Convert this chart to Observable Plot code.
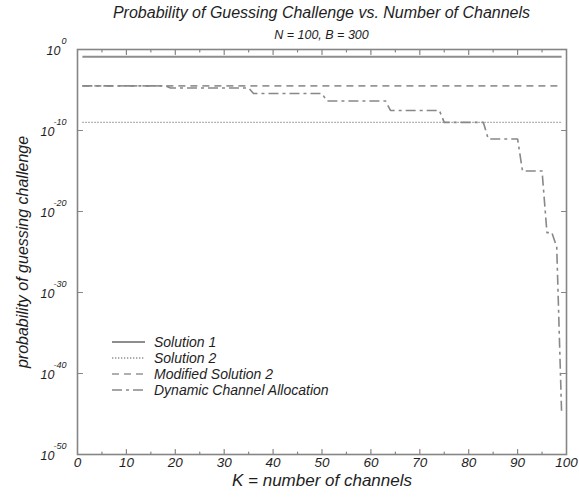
<!DOCTYPE html>
<html>
<head>
<meta charset="utf-8">
<script src="https://cdn.jsdelivr.net/npm/d3@7"></script>
<script src="https://cdn.jsdelivr.net/npm/@observablehq/plot@0.6"></script>
<style>
  body { margin: 0; background: #fff; }
  #wrap { position: relative; width: 579px; height: 498px; font-family: "Liberation Sans", Arial, sans-serif; color: #1e1e1e; }
  .ttl { position: absolute; left: 77px; width: 489px; text-align: center; font-style: italic; white-space: nowrap; }
  #chart { position: absolute; left: 0; top: 0; }
</style>
</head>
<body>
<div id="wrap">
  <div id="chart"></div>
  <div class="ttl" style="top:3px;font-size:16px;line-height:20px;">Probability of Guessing Challenge vs. Number of Channels</div>
  <div class="ttl" style="top:27px;font-size:12.5px;line-height:16px;">N = 100, B = 300</div>
</div>
<script>
// ---- data ----
const kRange = [1, 99];
const solution1 = [0.13, 0.13];
const solution2 = [1e-9, 1e-9];
const modifiedSolution2 = [3.2e-5, 3.2e-5];
const dcaK = [1, 18, 19, 35, 36, 50, 51, 63, 64, 74, 75, 83, 84, 90, 91, 95, 96, 97, 98, 99];
const dcaP = [3.2e-5, 3.2e-5, 1.8e-5, 1.8e-5, 3.7e-6, 3.7e-6, 4.4e-7, 4.4e-7, 3e-8, 3e-8,
              1e-9, 1e-9, 9e-12, 9e-12, 1e-15, 1e-15, 2.5e-23, 2.5e-23, 4e-25, 1.3e-45];
const xTicks = [10, 20, 30, 40, 50, 60, 70, 80, 90];
const xMinorTicks = [5, 15, 25, 35, 45, 55, 65, 75, 85, 95];
const xTickLabels = [0, 10, 20, 30, 40, 50, 60, 70, 80, 90, 100];
const yTickExponents = [0, -10, -20, -30, -40, -50];
const yInnerTickExponents = [-10, -20, -30, -40];
const seriesNames = ["Solution 1", "Solution 2", "Modified Solution 2", "Dynamic Channel Allocation"];
const titleX = "K = number of channels";
const titleY = "probability of guessing challenge";

// ---- build tables ----
const toRows = (ks, ps, s) => ks.map((k, i) => ({k, p: ps[i], s}));
const series = [
  toRows(kRange, solution1, seriesNames[0]),
  toRows(kRange, solution2, seriesNames[1]),
  toRows(kRange, modifiedSolution2, seriesNames[2]),
  toRows(dcaK, dcaP, seriesNames[3])
];
const styles = [
  {stroke: "#8e8e8e", strokeWidth: 2, strokeDasharray: null},
  {stroke: "#8e8e8e", strokeWidth: 1.3, strokeDasharray: "1.3,1.7"},
  {stroke: "#959595", strokeWidth: 1.6, strokeDasharray: "7,5"},
  {stroke: "#888888", strokeWidth: 1.6, strokeDasharray: "10,4,3,4"}
];
const axisColor = "#858585";
const tickShape = {draw(c, l) { c.moveTo(0, 0); c.lineTo(0, -l); }};
const font = "'Liberation Sans', Arial, sans-serif";
const ink = "#1e1e1e";

const chart = Plot.plot({
  width: 579, height: 498,
  marginLeft: 77, marginRight: 13, marginTop: 49, marginBottom: 44,
  x: {domain: [0, 100], axis: null},
  y: {type: "log", domain: [1e-50, 1], axis: null},
  style: {fontFamily: font, fontStyle: "italic", background: "transparent", overflow: "visible", color: ink},
  marks: [
    ...series.map((d, i) => Plot.line(d, {x: "k", y: "p", ...styles[i], strokeLinecap: "butt"})),
    Plot.frame({stroke: axisColor, strokeWidth: 1.6}),
    Plot.vector(xTicks, {x: d => d, frameAnchor: "bottom", length: 5, rotate: 0, anchor: "start", shape: tickShape, stroke: axisColor, strokeWidth: 1.2}),
    Plot.vector(xMinorTicks, {x: d => d, frameAnchor: "bottom", length: 2.5, rotate: 0, anchor: "start", shape: tickShape, stroke: axisColor, strokeWidth: 1.2}),
    Plot.vector(xTicks, {x: d => d, frameAnchor: "top", length: 5, rotate: 180, anchor: "start", shape: tickShape, stroke: axisColor, strokeWidth: 1.2}),
    Plot.vector(xMinorTicks, {x: d => d, frameAnchor: "top", length: 2.5, rotate: 180, anchor: "start", shape: tickShape, stroke: axisColor, strokeWidth: 1.2}),
    Plot.vector(yInnerTickExponents, {y: d => 10 ** d, frameAnchor: "left", length: 5, rotate: 90, anchor: "start", shape: tickShape, stroke: axisColor, strokeWidth: 1.2}),
    Plot.vector(yInnerTickExponents, {y: d => 10 ** d, frameAnchor: "right", length: 5, rotate: -90, anchor: "start", shape: tickShape, stroke: axisColor, strokeWidth: 1.2}),
    Plot.text(xTickLabels, {x: d => d, frameAnchor: "bottom", dy: 12, text: d => String(d), fontSize: 13.5, fill: ink}),
    Plot.text(yTickExponents.filter(e => e !== 0), {y: d => 10 ** d, frameAnchor: "left", dx: -23, dy: 1, text: () => "10", textAnchor: "end", fontSize: 12.5, fill: ink}),
    Plot.text(yTickExponents.filter(e => e === 0), {y: d => 10 ** d, frameAnchor: "left", dx: -17, dy: 1, text: () => "10", textAnchor: "end", fontSize: 12.5, fill: ink}),
    Plot.text(yTickExponents, {y: d => 10 ** d, frameAnchor: "left", dx: -11, dy: -8, text: d => d === 0 ? "0" : "-" + Math.abs(d), textAnchor: "end", fontSize: 9, fill: ink}),
    Plot.text([titleX], {frameAnchor: "bottom", dy: 31, text: d => d, textAnchor: "middle", fontSize: 17, fill: ink}),
    Plot.text([titleY], {frameAnchor: "left", dx: -55, rotate: -90, text: d => d, textAnchor: "middle", fontSize: 16, fill: ink})
  ]
});
document.getElementById("chart").appendChild(chart);

// ---- legend (inside plot, lower left) ----
const svg = d3.select(chart);
const lg = svg.append("g").attr("font-family", font).attr("font-style", "italic").attr("font-size", 14)
  .attr("fill", ink).attr("text-anchor", "start");
const legendTop = 342, legendStep = 16;
seriesNames.forEach((name, i) => {
  const yy = legendTop + i * legendStep;
  lg.append("line").attr("x1", 112).attr("x2", 145).attr("y1", yy).attr("y2", yy)
    .attr("stroke", styles[i].stroke).attr("stroke-width", styles[i].strokeWidth)
    .attr("stroke-dasharray", styles[i].strokeDasharray);
  lg.append("text").attr("x", 154).attr("y", yy).attr("dy", "0.35em").attr("text-anchor", "start").text(name);
});
</script>
</body>
</html>
